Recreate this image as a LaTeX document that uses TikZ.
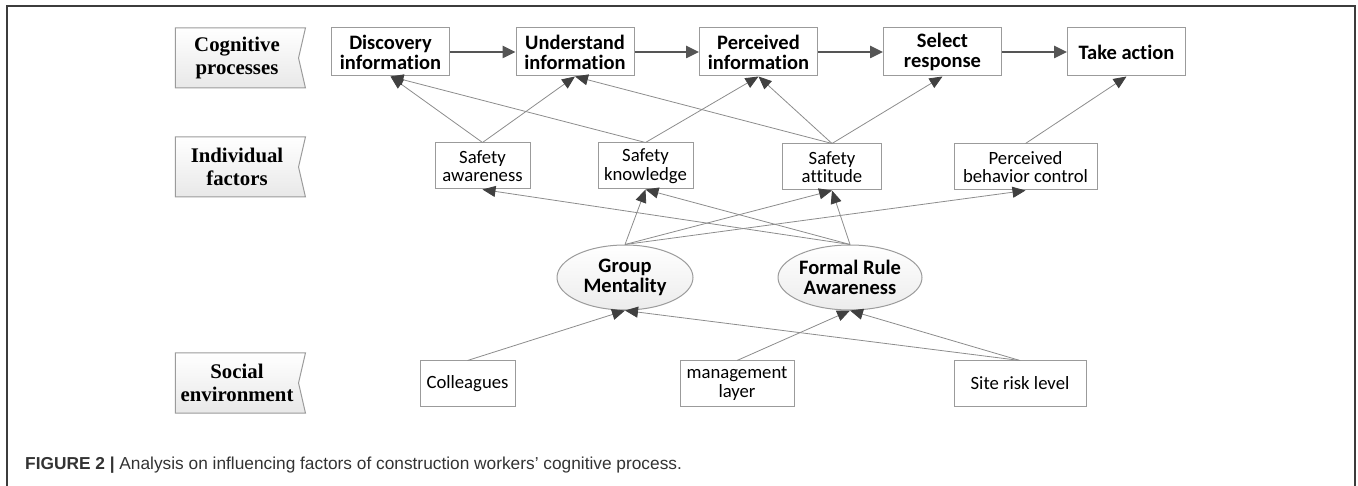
\documentclass[tikz,border=0pt]{standalone}
\usepackage{fontspec}
\setmainfont{Carlito}[Ligatures=NoCommon]
\newfontfamily\tagfont{Liberation Serif}
\newfontfamily\capfont{Liberation Sans}
\usetikzlibrary{arrows.meta}
\usetikzlibrary{shapes.geometric}
\usetikzlibrary{shapes.symbols}

\definecolor{edgegray}{RGB}{155,155,155}
\definecolor{linegray}{RGB}{140,140,140}
\definecolor{tipgray}{RGB}{64,64,64}
\definecolor{flowgray}{RGB}{85,85,85}
\definecolor{framegray}{RGB}{60,60,60}
\definecolor{shadegray}{RGB}{232,232,232}
\definecolor{ovalgray}{RGB}{236,236,236}

\begin{document}
\begin{tikzpicture}[x=1pt,y=-1pt,
  tagbox/.style={signal, signal to=nowhere, signal from=east, signal pointer angle=154,
    draw=edgegray, line width=1pt, top color=white, bottom color=shadegray,
    minimum width=130pt, minimum height=60pt, inner sep=0pt, align=center,
    font=\tagfont\bfseries\fontsize{20.8}{22.5}\selectfont},
  procbox/.style={draw=edgegray, line width=1pt, fill=white, minimum width=118pt,
    minimum height=48pt, inner sep=0pt, align=center,
    font=\bfseries\fontsize{20.5}{20}\selectfont},
  factorbox/.style={draw=edgegray, line width=1pt, fill=white, minimum height=46pt,
    inner sep=0pt, align=center, font=\fontsize{18.7}{18.5}\selectfont},
  mediator/.style={ellipse, draw=edgegray, line width=1pt, top color=white,
    bottom color=ovalgray, minimum width=136pt, minimum height=65pt, inner sep=0pt,
    align=center, font=\bfseries\fontsize{20.5}{20}\selectfont},
  flow/.style={draw=flowgray, line width=2.5pt, -{Triangle[length=13pt,width=12pt]}},
  influence/.style={draw=linegray, line width=0.8pt,
    -{Triangle[length=13pt,width=11pt,color=tipgray]}}
]
\useasboundingbox (0,0) rectangle (1358,486);

% frame
\draw[framegray, line width=2pt] (7,486) -- (7,6) -- (1355,6) -- (1355,486);

% row labels
\node[tagbox] (lcog) at (237,58) {Cognitive\\processes};
\node[tagbox] (lind) at (237,167) {Individual\\factors};
\node[tagbox] (lsoc) at (237,383) {Social\\environment};

% cognitive processes
\node[procbox] (disc) at (390.5,52) {Discovery\\information};
\node[procbox] (und) at (575,52) {Understand\\information};
\node[procbox] (perc) at (758.5,52) {Perceived\\information};
\node[procbox] (sel) at (942.5,52) {Select\\response};
\node[procbox] (take) at (1126.5,52) {Take action};

\draw[flow] (disc) -- (und);
\draw[flow] (und) -- (perc);
\draw[flow] (perc) -- (sel);
\draw[flow] (sel) -- (take);

% individual factors
\node[factorbox, minimum width=95pt] (aware) at (482.5,166) {Safety\\awareness};
\node[factorbox, minimum width=95pt] (know) at (645.5,166) {Safety\\knowledge};
\node[factorbox, minimum width=99pt] (att) at (832,167) {Safety\\attitude};
\node[factorbox, minimum width=143pt] (pbc) at (1025.5,167) {Perceived\\behavior control};

% mediators
\node[mediator] (gm) at (625,277.5) {Group\\Mentality};
\node[mediator] (fr) at (850,277.5) {Formal Rule\\Awareness};

% social environment
\node[factorbox, minimum width=95pt, minimum height=45pt] (coll) at (467.5,383.5) {Colleagues};
\node[factorbox, minimum width=114pt, minimum height=45pt] (mgmt) at (737,383.5) {management\\layer};
\node[factorbox, minimum width=132pt, minimum height=45pt] (risk) at (1020,383.5) {Site risk level};

% factors -> processes
\draw[influence] (aware.north) -- (disc.south);
\draw[influence] (know.north) -- (disc.south);
\draw[influence] (aware.north) -- (und.south);
\draw[influence] (att.north) -- (und.south);
\draw[influence] (know.north) -- (perc.south);
\draw[influence] (att.north) -- (perc.south);
\draw[influence] (att.north) -- (sel.south);
\draw[influence] (pbc.north) -- (take.south);

% mediators -> factors
\draw[influence] (fr.north) -- (aware.south);
\draw[influence] (gm.north) -- (know.south);
\draw[influence] (fr.north) -- (know.south);
\draw[influence] (gm.north) -- (att.south);
\draw[influence] (fr.north) -- (att.south);
\draw[influence] (gm.north) -- (pbc.south);

% environment -> mediators
\draw[influence] (coll.north) -- (gm.south);
\draw[influence] (risk.north) -- (gm.south);
\draw[influence] (mgmt.north) -- (fr.south);
\draw[influence] (risk.north) -- (fr.south);

% caption
\node[anchor=base west, inner sep=0pt, text=black!80,
  font=\capfont\fontsize{17.3}{20}\selectfont] (cap) at (25,469)
  {\textbf{FIGURE 2 |} Analysis on influencing factors of construction workers’ cognitive process.};

\end{tikzpicture}
\end{document}
